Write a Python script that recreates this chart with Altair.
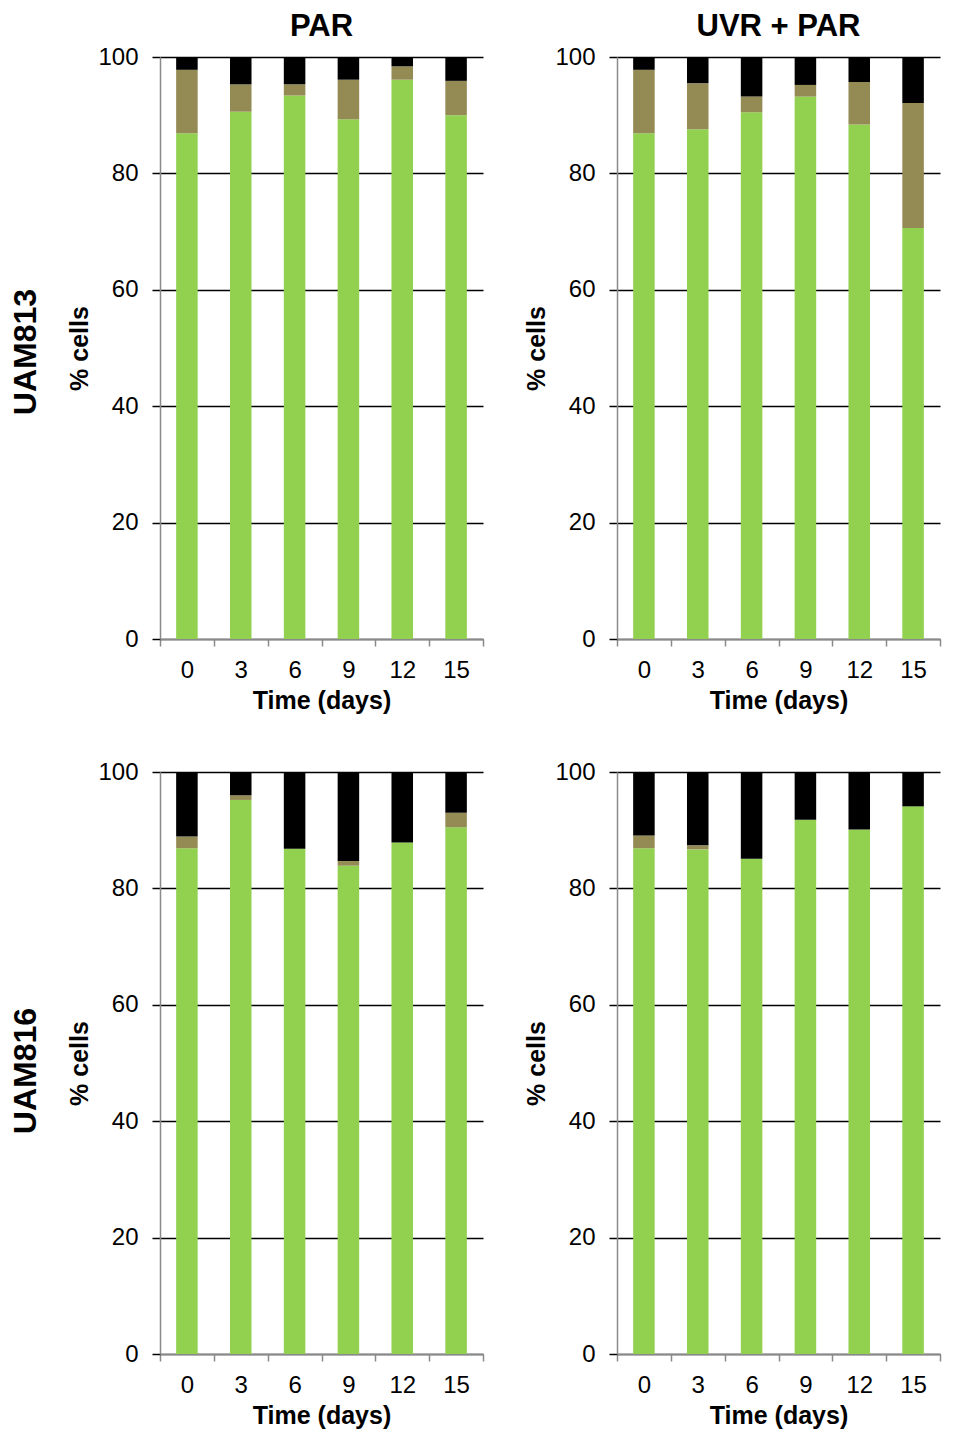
import altair as alt
import pandas as pd

days = ["0", "3", "6", "9", "12", "15"]
categories = ["Green cells", "Brown cells", "Black cells"]
colors = ["#92D050", "#948A54", "#000000"]

par_813_green = [86.9, 90.6, 93.4, 89.3, 96.1, 90.0]
par_813_olive = [10.9, 4.7, 1.9, 6.8, 2.3, 5.9]
par_813_black = [2.2, 4.7, 4.7, 3.9, 1.6, 4.1]

uvr_813_green = [86.9, 87.6, 90.5, 93.2, 88.4, 70.6]
uvr_813_olive = [10.9, 7.9, 2.7, 2.0, 7.3, 21.5]
uvr_813_black = [2.2, 4.5, 6.8, 4.8, 4.3, 7.9]

par_816_green = [86.9, 95.2, 86.8, 83.9, 87.9, 90.5]
par_816_olive = [2.0, 0.8, 0.0, 0.8, 0.0, 2.5]
par_816_black = [11.1, 4.0, 13.2, 15.3, 12.1, 7.0]

uvr_816_green = [86.9, 86.7, 85.1, 91.8, 90.1, 94.1]
uvr_816_olive = [2.2, 0.7, 0.0, 0.0, 0.0, 0.0]
uvr_816_black = [10.9, 12.6, 14.9, 8.2, 9.9, 5.9]

strains = ["UAM813", "UAM816"]

FONT = "Liberation Sans"
W, H = 323, 582


def panel(g, o, b, title=None, row_label=None, label_dy=0):
    rows = []
    for i, d in enumerate(days):
        for k, (cat, vals) in enumerate(zip(categories, [g, o, b])):
            rows.append({"day": d, "cat": cat, "order": k, "value": vals[i]})
    df = pd.DataFrame(rows)
    ch = alt.Chart(df).mark_bar(width=alt.RelativeBandSize(0.4), strokeWidth=0).encode(
        x=alt.X("day:N", sort=days,
                scale=alt.Scale(paddingInner=0, paddingOuter=0),
                axis=alt.Axis(title="Time (days)", labelAngle=0, tickBand="extent",
                              domainColor="#8a8a8a", domainWidth=1.5,
                              tickColor="#8a8a8a", tickSize=7, tickWidth=1.5,
                              labelPadding=12, titlePadding=6, grid=False)),
        y=alt.Y("value:Q", stack="zero",
                scale=alt.Scale(domain=[0, 100], nice=False),
                axis=alt.Axis(title="% cells", values=[0, 20, 40, 60, 80, 100],
                              grid=True, gridColor="#000000", gridWidth=1.5,
                              domainColor="#8a8a8a", domainWidth=1.5,
                              tickColor="#000000", tickSize=8, tickWidth=1.5,
                              labelPadding=14, titlePadding=5)),
        color=alt.Color("cat:N", scale=alt.Scale(domain=categories, range=colors), legend=None),
        order=alt.Order("order:Q"),
    )
    if row_label:
        lab = alt.Chart(pd.DataFrame({"label": [row_label]})).mark_text(
            angle=270, align="center", baseline="middle", font=FONT,
            fontSize=32, fontWeight="bold", color="#000000"
        ).encode(text="label:N", x=alt.value(-134), y=alt.value(H / 2 + label_dy))
        ch = alt.layer(ch, lab)
    ch = ch.properties(width=W, height=H)
    if title:
        ch = ch.properties(title=alt.TitleParams(title, fontSize=31, font=FONT,
                                                 fontWeight="bold", color="#000000",
                                                 anchor="middle", offset=2))
    return ch


p1 = panel(par_813_green, par_813_olive, par_813_black, "PAR", strains[0], label_dy=4)
p2 = panel(uvr_813_green, uvr_813_olive, uvr_813_black, "UVR + PAR")
p3 = panel(par_816_green, par_816_olive, par_816_black, None, strains[1], label_dy=8)
p4 = panel(uvr_816_green, uvr_816_olive, uvr_816_black)

row1 = alt.hconcat(p1, p2, spacing=40)
row2 = alt.hconcat(p3, p4, spacing=40)

chart = alt.vconcat(row1, row2, spacing=47).configure(
    font=FONT, padding={"left": 2, "top": 3, "right": 2, "bottom": 2}
).configure_axis(
    labelFont=FONT, titleFont=FONT, labelFontSize=24, titleFontSize=25,
    titleFontWeight="bold", labelColor="#000000", titleColor="#000000"
).configure_view(stroke=None)

chart.save("out.html", embed_options={"renderer": "svg", "actions": False})
